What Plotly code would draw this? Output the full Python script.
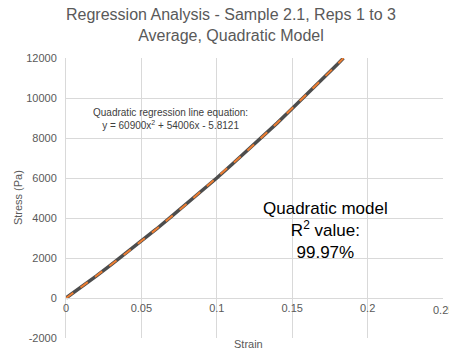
import plotly.graph_objects as go

# Measured data (average of reps 1-3)
strain = [0.0, 0.005, 0.01, 0.015, 0.02, 0.03, 0.04, 0.05, 0.06, 0.07, 0.08, 0.09,
          0.10, 0.11, 0.12, 0.13, 0.14, 0.15, 0.16, 0.17, 0.18, 0.184]
stress = [0, 265, 545, 815, 1095, 1672, 2248, 2850, 3450, 4078, 4700, 5352,
          6000, 6676, 7348, 8048, 8745, 9470, 10190, 10940, 11685, 11995]

# Quadratic trendline values
trend_x = [0.0, 0.02, 0.04, 0.06, 0.08, 0.10, 0.12, 0.14, 0.16, 0.18, 0.184]
trend_y = [-6, 1099, 2252, 3454, 4704, 6004, 7352, 8749, 10194, 11688, 11993]

x_ticks = [0, 0.05, 0.1, 0.15, 0.2]
x_ticktext = ["0", "0.05", "0.1", "0.15", "0.2"]
y_ticks = [-2000, 0, 2000, 4000, 6000, 8000, 10000, 12000]
y_ticktext = ["-2000", "0", "2000", "4000", "6000", "8000", "10000", "12000"]

title_text = "Regression Analysis - Sample 2.1, Reps 1 to 3<br>Average, Quadratic Model"
eq_text = "Quadratic regression line equation:<br>y = 60900x<sup>2</sup> + 54006x - 5.8121"
r2_text = "Quadratic model<br>R<sup>2</sup> value:<br>99.97%"

grid = "#d9d9d9"
txt = "#595959"
font = "Liberation Sans, Arial, sans-serif"

fig = go.Figure()
fig.add_trace(go.Scatter(x=strain, y=stress, mode="lines",
                         line=dict(color="#4d4d4d", width=3.5), showlegend=False))
fig.add_trace(go.Scatter(x=trend_x, y=trend_y, mode="lines",
                         line=dict(color="#ED7D31", width=2, dash="dash"), showlegend=False))

fig.update_layout(
    width=449, height=352,
    margin=dict(l=66, r=6, t=58, b=14),
    paper_bgcolor="white", plot_bgcolor="white",
    font=dict(family=font, color=txt, size=11),
    xaxis=dict(range=[0, 0.25], tickvals=x_ticks, ticktext=x_ticktext,
               showgrid=True, gridcolor=grid, gridwidth=1, zeroline=False,
               showline=True, linecolor=grid, linewidth=1,
               anchor="free", position=2000 / 14000, ticks="",
               tickfont=dict(size=11, color=txt)),
    yaxis=dict(range=[-2000, 12000], tickvals=y_ticks, ticktext=y_ticktext, domain=[0, 1],
               showgrid=True, gridcolor=grid, gridwidth=1, zeroline=False,
               showline=True, linecolor=grid, linewidth=1, ticks="",
               ticklabelstandoff=6,
               tickfont=dict(size=11, color=txt)),
    annotations=[
        dict(text=title_text, xref="paper", yref="paper", x=0.438, y=1.118,
             xanchor="center", yanchor="middle", showarrow=False,
             font=dict(size=16, color=txt, family=font), align="center"),
        dict(text="Stress (Pa)", xref="paper", yref="paper", x=-0.127, y=0.5,
             xanchor="center", yanchor="middle", textangle=-90, showarrow=False,
             font=dict(size=11, color=txt, family=font)),
        dict(text="Strain", xref="paper", yref="paper", x=0.485, y=-0.05, yanchor="bottom",
             showarrow=False, font=dict(size=11, color=txt, family=font)),
        dict(text="0.25", xref="paper", yref="y", x=1.0, y=0, yanchor="top", yshift=-4,
             xanchor="center", showarrow=False, font=dict(size=11, color=txt, family=font)),
        dict(text=eq_text, xref="x", yref="y", x=0.069, y=8950, showarrow=False,
             font=dict(size=10, color="#404040", family=font), align="center"),
        dict(text=r2_text, xref="x", yref="y", x=0.172, y=3400, showarrow=False,
             font=dict(size=17, color="black", family=font), align="center"),
    ],
)

fig.write_html("out.html")
